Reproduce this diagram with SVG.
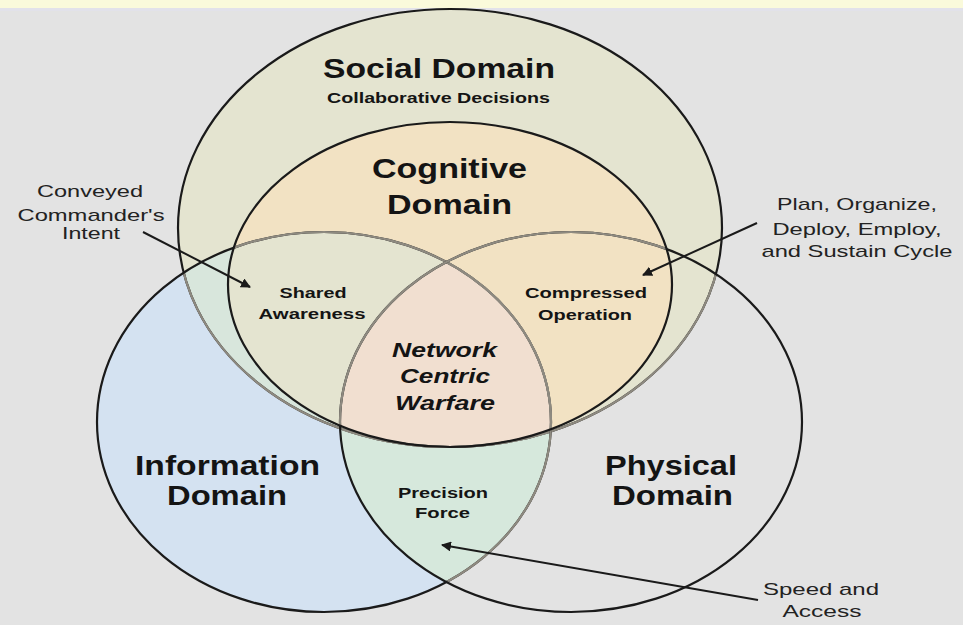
<svg xmlns="http://www.w3.org/2000/svg" width="963" height="625" viewBox="0 0 963 625">
<style>
.t{font-family:"Liberation Sans",Arial,sans-serif;fill:#141414;text-anchor:middle}
.b{font-weight:bold}
.big{font-size:28px;font-weight:bold}
.mid{font-size:14px;font-weight:bold}
.ann{font-size:17px;fill:#222}
.ncw{font-size:21px;font-weight:bold;font-style:italic}
.dk{fill:none;stroke:#1a1a1a;stroke-width:2.2}
.gr{fill:none;stroke:#8e8a80;stroke-width:2.2}
.arr{fill:none;stroke:#1a1a1a;stroke-width:2;marker-end:url(#ah)}
</style>
<defs>
<ellipse id="eS" cx="450" cy="228" rx="272" ry="219"/>
<ellipse id="eC" cx="450" cy="284.5" rx="222" ry="162.5"/>
<ellipse id="eI" cx="324" cy="422" rx="227" ry="190"/>
<ellipse id="eP" cx="571" cy="422" rx="231" ry="190"/>
<clipPath id="cS"><use href="#eS"/></clipPath>
<clipPath id="cC"><use href="#eC"/></clipPath>
<clipPath id="cI"><use href="#eI"/></clipPath>
<clipPath id="cP"><use href="#eP"/></clipPath>
<marker id="ah" viewBox="0 0 10 10" refX="9" refY="5" markerWidth="5" markerHeight="5" orient="auto" markerUnits="strokeWidth">
<path d="M0,0 L10,5 L0,10 z" fill="#1a1a1a"/>
</marker>
</defs>
<rect width="963" height="625" fill="#e3e3e3"/>
<rect width="963" height="8" fill="#fafadb"/>
<rect y="8" width="963" height="3" fill="#e2e2ea"/>

<g id="fills">
<use href="#eS" fill="#e4e4d0"/>
<use href="#eI" fill="#d4e2f1"/>
<use href="#eI" fill="#d8e6dc" clip-path="url(#cS)"/>
<use href="#eI" fill="#d6e8dc" clip-path="url(#cP)"/>
<use href="#eC" fill="#f2e2c3"/>
<use href="#eI" fill="#e4e4d0" clip-path="url(#cC)"/>
<g clip-path="url(#cC)"><use href="#eP" fill="#f1dfd0" clip-path="url(#cI)"/></g>
</g>

<g id="social">
<use href="#eS" class="dk"/>
<use href="#eS" class="gr" clip-path="url(#cI)"/>
<use href="#eS" class="gr" clip-path="url(#cP)"/>
<text class="t big" x="439" y="78" textLength="232" lengthAdjust="spacingAndGlyphs">Social Domain</text>
<text class="t b" x="438.5" y="103" font-size="15" textLength="223" lengthAdjust="spacingAndGlyphs">Collaborative Decisions</text>
</g>

<g id="information">
<use href="#eI" class="dk"/>
<use href="#eI" class="gr" clip-path="url(#cC)"/>
<use href="#eI" class="gr" clip-path="url(#cP)"/>
<text class="t big" x="227.5" y="475" textLength="185" lengthAdjust="spacingAndGlyphs">Information</text>
<text class="t big" x="227" y="505" textLength="120" lengthAdjust="spacingAndGlyphs">Domain</text>
</g>

<g id="physical">
<use href="#eP" class="dk"/>
<use href="#eP" class="gr" clip-path="url(#cC)"/>
<text class="t big" x="671" y="475" textLength="132" lengthAdjust="spacingAndGlyphs">Physical</text>
<text class="t big" x="672.5" y="505" textLength="121" lengthAdjust="spacingAndGlyphs">Domain</text>
</g>

<g id="cognitive">
<use href="#eC" class="dk"/>
<text class="t big" x="449.5" y="178" textLength="155" lengthAdjust="spacingAndGlyphs">Cognitive</text>
<text class="t big" x="449.5" y="214" textLength="125" lengthAdjust="spacingAndGlyphs">Domain</text>
</g>

<g id="shared-awareness">
<text class="t mid" x="313" y="298" textLength="67" lengthAdjust="spacingAndGlyphs">Shared</text>
<text class="t mid" x="312" y="319" textLength="107" lengthAdjust="spacingAndGlyphs">Awareness</text>
</g>

<g id="compressed-operation">
<text class="t mid" x="586" y="298" textLength="122" lengthAdjust="spacingAndGlyphs">Compressed</text>
<text class="t mid" x="585" y="320" textLength="94" lengthAdjust="spacingAndGlyphs">Operation</text>
</g>

<g id="network-centric-warfare">
<text class="t ncw" x="444.5" y="357" textLength="105" lengthAdjust="spacingAndGlyphs">Network</text>
<text class="t ncw" x="445" y="383" textLength="90" lengthAdjust="spacingAndGlyphs">Centric</text>
<text class="t ncw" x="445" y="410" textLength="100" lengthAdjust="spacingAndGlyphs">Warfare</text>
</g>

<g id="precision-force">
<text class="t mid" x="443" y="498" font-size="13" textLength="90" lengthAdjust="spacingAndGlyphs">Precision</text>
<text class="t mid" x="442.5" y="518" font-size="13" textLength="55" lengthAdjust="spacingAndGlyphs">Force</text>
</g>

<g id="commanders-intent">
<text class="t ann" x="90" y="197" textLength="106" lengthAdjust="spacingAndGlyphs">Conveyed</text>
<text class="t ann" x="91" y="221" textLength="147" lengthAdjust="spacingAndGlyphs">Commander's</text>
<text class="t ann" x="91" y="239" textLength="58" lengthAdjust="spacingAndGlyphs">Intent</text>
</g>

<g id="plan-cycle">
<text class="t ann" x="857" y="210" textLength="160" lengthAdjust="spacingAndGlyphs">Plan, Organize,</text>
<text class="t ann" x="857" y="235" textLength="169" lengthAdjust="spacingAndGlyphs">Deploy, Employ,</text>
<text class="t ann" x="857" y="257" textLength="191" lengthAdjust="spacingAndGlyphs">and Sustain Cycle</text>
</g>

<g id="speed-access">
<text class="t ann" x="821" y="595" font-size="16" textLength="116" lengthAdjust="spacingAndGlyphs">Speed and</text>
<text class="t ann" x="822" y="617" font-size="16" textLength="79" lengthAdjust="spacingAndGlyphs">Access</text>
</g>

<g id="connectors">
<line class="arr" x1="143" y1="232" x2="250" y2="287"/>
<line class="arr" x1="757" y1="223" x2="643" y2="275"/>
<line class="arr" x1="758" y1="600" x2="442" y2="545"/>
</g>
</svg>
